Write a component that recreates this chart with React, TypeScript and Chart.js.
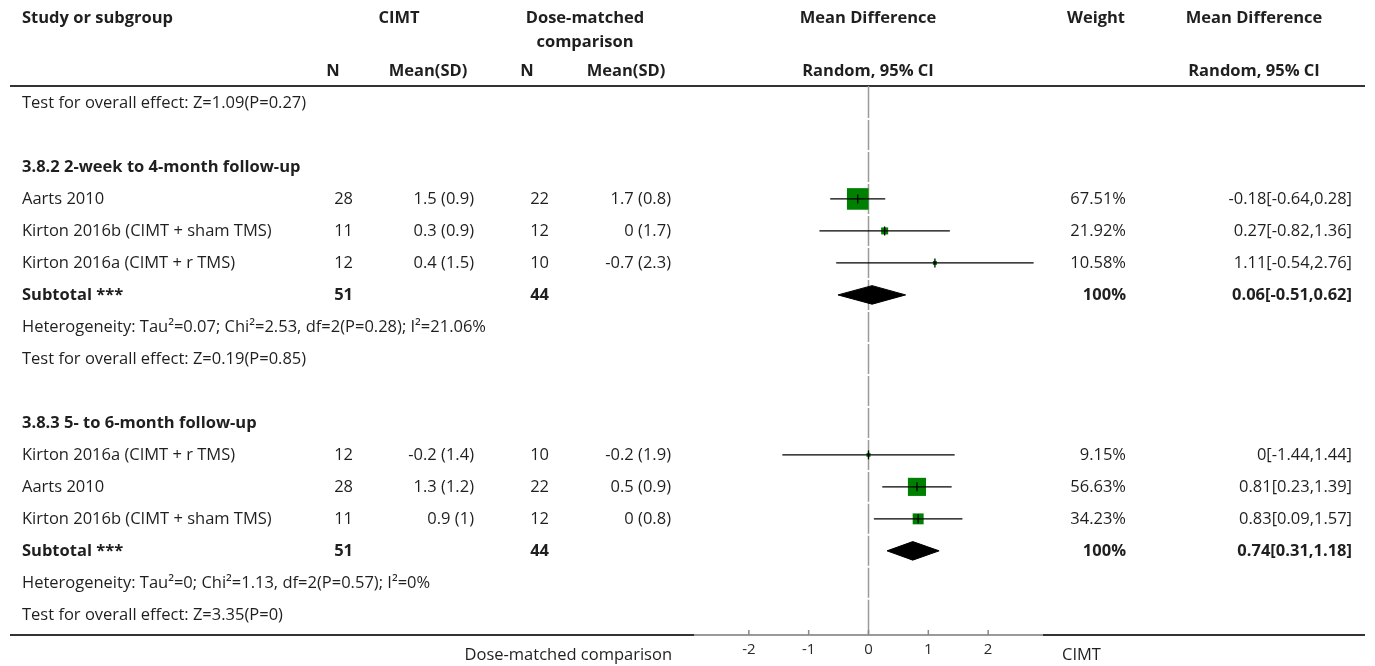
import { useEffect, useRef } from "react";
import { Chart, registerables } from "chart.js";

Chart.register(...registerables);

const FONT = '"Open Sans", "Noto Sans", sans-serif';
const TEXT_COLOR = "#1f1f1f";
const TEXT_SIZE = 16.5;

const TICKS = [-2, -1, 0, 1, 2];
const X_MIN = -2.9;
const X_MAX = 2.9;
const ROW_COUNT = 17;

const TEXT_ROWS = [0, 7, 8, 15, 16];
const TEXT_LINES = [
  "Test for overall effect: Z=1.09(P=0.27)",
  "Heterogeneity: Tau\u00b2=0.07; Chi\u00b2=2.53, df=2(P=0.28); I\u00b2=21.06%",
  "Test for overall effect: Z=0.19(P=0.85)",
  "Heterogeneity: Tau\u00b2=0; Chi\u00b2=1.13, df=2(P=0.57); I\u00b2=0%",
  "Test for overall effect: Z=3.35(P=0)",
];

const GROUP_ROWS = [2, 10];
const GROUP_LABELS = ["3.8.2 2-week to 4-month follow-up", "3.8.3 5- to 6-month follow-up"];

const STUDY_ROWS = [3, 4, 5, 11, 12, 13];
const STUDIES = [
  "Aarts 2010",
  "Kirton 2016b (CIMT + sham TMS)",
  "Kirton 2016a (CIMT + r TMS)",
  "Kirton 2016a (CIMT + r TMS)",
  "Aarts 2010",
  "Kirton 2016b (CIMT + sham TMS)",
];
const N_CIMT = [28, 11, 12, 12, 28, 11];
const MEAN_CIMT = [1.5, 0.3, 0.4, -0.2, 1.3, 0.9];
const SD_CIMT = [0.9, 0.9, 1.5, 1.4, 1.2, 1];
const N_CTRL = [22, 12, 10, 10, 22, 12];
const MEAN_CTRL = [1.7, 0, -0.7, -0.2, 0.5, 0];
const SD_CTRL = [0.8, 1.7, 2.3, 1.9, 0.9, 0.8];
const WEIGHTS = [67.51, 21.92, 10.58, 9.15, 56.63, 34.23];
const MD = [-0.18, 0.27, 1.11, 0, 0.81, 0.83];
const MD_LO = [-0.64, -0.82, -0.54, -1.44, 0.23, 0.09];
const MD_HI = [0.28, 1.36, 2.76, 1.44, 1.39, 1.57];

const SUB_ROWS = [6, 14];
const SUB_N_CIMT = [51, 51];
const SUB_N_CTRL = [44, 44];
const SUB_WEIGHT = ["100%", "100%"];
const SUB_MD = [0.06, 0.74];
const SUB_LO = [-0.51, 0.31];
const SUB_HI = [0.62, 1.18];

const DIAMOND_HALF = 0.29;

function drawText(ctx: CanvasRenderingContext2D, s: string, x: number, y: number, align: CanvasTextAlign, bold = false, size = TEXT_SIZE) {
  ctx.font = `${bold ? "700 " : ""}${size}px ${FONT}`;
  ctx.textAlign = align;
  ctx.textBaseline = "middle";
  ctx.fillStyle = TEXT_COLOR;
  ctx.fillText(s, x, y);
}

const forestPlugin = {
  id: "forestTable",
  beforeDraw(chart: any) {
    const ctx = chart.ctx as CanvasRenderingContext2D;
    const { top, bottom } = chart.chartArea;
    ctx.save();
    ctx.strokeStyle = "#333";
    ctx.lineWidth = 2;
    ctx.beginPath();
    ctx.moveTo(10, top);
    ctx.lineTo(1365, top);
    ctx.moveTo(10, bottom);
    ctx.lineTo(1365, bottom);
    ctx.stroke();
    ctx.restore();
  },
  beforeDatasetsDraw(chart: any) {
    const ctx = chart.ctx as CanvasRenderingContext2D;
    const xs = chart.scales.x;
    const ys = chart.scales.y;
    const { top, bottom } = chart.chartArea;
    const x0 = xs.getPixelForValue(0);
    ctx.save();
    ctx.strokeStyle = "#9a9a9a";
    ctx.lineWidth = 1.5;
    ctx.beginPath();
    for (let i = 0; i < ROW_COUNT; i++) {
      const y1 = i === 0 ? top : ys.getPixelForValue(i - 0.5) + 1;
      const y2 = i === ROW_COUNT - 1 ? bottom : ys.getPixelForValue(i + 0.5) - 1;
      ctx.moveTo(x0, y1);
      ctx.lineTo(x0, y2);
    }
    ctx.stroke();
    ctx.strokeStyle = "#888";
    ctx.lineWidth = 1.5;
    ctx.beginPath();
    TICKS.forEach((v) => {
      const px = xs.getPixelForValue(v);
      ctx.moveTo(px, bottom);
      ctx.lineTo(px, bottom - 5);
    });
    ctx.stroke();
    ctx.restore();
  },
  afterDraw(chart: any) {
    const ctx = chart.ctx as CanvasRenderingContext2D;
    const ys = chart.scales.y;
    const { top, bottom } = chart.chartArea;
    ctx.save();
    drawText(ctx, "Study or subgroup", 22, top - 68, "left", true);
    drawText(ctx, "CIMT", 399, top - 68, "center", true);
    drawText(ctx, "Dose-matched", 585, top - 68, "center", true);
    drawText(ctx, "comparison", 585, top - 44, "center", true);
    drawText(ctx, "Mean Difference", 868, top - 68, "center", true);
    drawText(ctx, "Weight", 1096, top - 68, "center", true);
    drawText(ctx, "Mean Difference", 1254, top - 68, "center", true);
    drawText(ctx, "N", 333, top - 15, "center", true);
    drawText(ctx, "Mean(SD)", 428, top - 15, "center", true);
    drawText(ctx, "N", 527, top - 15, "center", true);
    drawText(ctx, "Mean(SD)", 626, top - 15, "center", true);
    drawText(ctx, "Random, 95% CI", 868, top - 15, "center", true);
    drawText(ctx, "Random, 95% CI", 1254, top - 15, "center", true);

    TEXT_ROWS.forEach((r, i) => drawText(ctx, TEXT_LINES[i], 22, ys.getPixelForValue(r), "left"));
    GROUP_ROWS.forEach((r, i) => drawText(ctx, GROUP_LABELS[i], 22, ys.getPixelForValue(r), "left", true));
    STUDY_ROWS.forEach((r, i) => {
      const y = ys.getPixelForValue(r);
      drawText(ctx, STUDIES[i], 22, y, "left");
      drawText(ctx, String(N_CIMT[i]), 353, y, "right");
      drawText(ctx, `${MEAN_CIMT[i]} (${SD_CIMT[i]})`, 474, y, "right");
      drawText(ctx, String(N_CTRL[i]), 549, y, "right");
      drawText(ctx, `${MEAN_CTRL[i]} (${SD_CTRL[i]})`, 671, y, "right");
      drawText(ctx, `${WEIGHTS[i]}%`, 1126, y, "right");
      drawText(ctx, `${MD[i]}[${MD_LO[i]},${MD_HI[i]}]`, 1352, y, "right");
    });
    SUB_ROWS.forEach((r, i) => {
      const y = ys.getPixelForValue(r);
      drawText(ctx, "Subtotal ***", 22, y, "left", true);
      drawText(ctx, String(SUB_N_CIMT[i]), 353, y, "right", true);
      drawText(ctx, String(SUB_N_CTRL[i]), 549, y, "right", true);
      drawText(ctx, SUB_WEIGHT[i], 1126, y, "right", true);
      drawText(ctx, `${SUB_MD[i]}[${SUB_LO[i]},${SUB_HI[i]}]`, 1352, y, "right", true);
    });
    drawText(ctx, "Dose-matched comparison", 672, bottom + 20, "right");
    drawText(ctx, "CIMT", 1062, bottom + 20, "left");
    ctx.restore();
  },
};

export default function App() {
  const canvasRef = useRef<HTMLCanvasElement | null>(null);

  useEffect(() => {
    const canvas = canvasRef.current;
    if (!canvas) return;

    const ciSets = STUDY_ROWS.map((r, i) => ({
      type: "line" as const,
      data: [
        { x: MD_LO[i], y: r },
        { x: MD_HI[i], y: r },
      ],
      borderColor: "#000",
      borderWidth: 1.3,
      pointRadius: 0,
      fill: false,
      order: 2,
    }));

    const diamondSets = SUB_ROWS.map((r, i) => ({
      type: "line" as const,
      data: [
        { x: SUB_LO[i], y: r },
        { x: SUB_MD[i], y: r - DIAMOND_HALF },
        { x: SUB_HI[i], y: r },
        { x: SUB_MD[i], y: r + DIAMOND_HALF },
        { x: SUB_LO[i], y: r },
      ],
      borderColor: "#000",
      backgroundColor: "#000",
      borderWidth: 1,
      pointRadius: 0,
      tension: 0,
      fill: "shape",
      order: 2,
    }));

    const squares = {
      type: "scatter" as const,
      data: STUDY_ROWS.map((r, i) => ({ x: MD[i], y: r })),
      pointStyle: "rect",
      pointRadius: STUDY_ROWS.map((_, i) => Math.max(4, WEIGHTS[i] * 0.32) / Math.SQRT2),
      backgroundColor: "#008000",
      borderColor: "#008000",
      borderWidth: 0,
      order: 3,
    };

    const marks = {
      type: "scatter" as const,
      data: STUDY_ROWS.map((r, i) => ({ x: MD[i], y: r })),
      pointStyle: "line",
      rotation: 90,
      pointRadius: 4.5,
      borderColor: "#000",
      borderWidth: 1.3,
      order: 1,
    };

    const chart = new Chart(canvas, {
      type: "scatter",
      data: { datasets: [marks, ...ciSets, ...diamondSets, squares] as any },
      options: {
        responsive: false,
        animation: false,
        events: [],
        layout: { padding: { left: 695, right: 333, top: 86, bottom: 6 } },
        plugins: { legend: { display: false }, tooltip: { enabled: false } },
        scales: {
          x: {
            type: "linear",
            min: X_MIN,
            max: X_MAX,
            afterBuildTicks: (s: any) => {
              s.ticks = TICKS.map((v) => ({ value: v }));
            },
            afterFit: (s: any) => {
              s.height = 25;
            },
            grid: { display: false, drawTicks: false },
            border: { display: true, color: "#9a9a9a", width: 2 },
            ticks: {
              padding: 6,
              color: "#2a2a2a",
              font: { family: FONT, size: 15 },
              callback: (v: any) => String(v),
            },
          },
          y: {
            type: "linear",
            display: false,
            reverse: true,
            min: -0.53,
            max: 16.63,
          },
        },
      } as any,
      plugins: [forestPlugin],
    });

    return () => chart.destroy();
  }, []);

  return (
    <div style={{ position: "fixed", left: 0, top: 0, width: 1375, height: 666, background: "#fff" }}>
      <canvas ref={canvasRef} width={1375} height={666} style={{ display: "block" }} />
    </div>
  );
}
